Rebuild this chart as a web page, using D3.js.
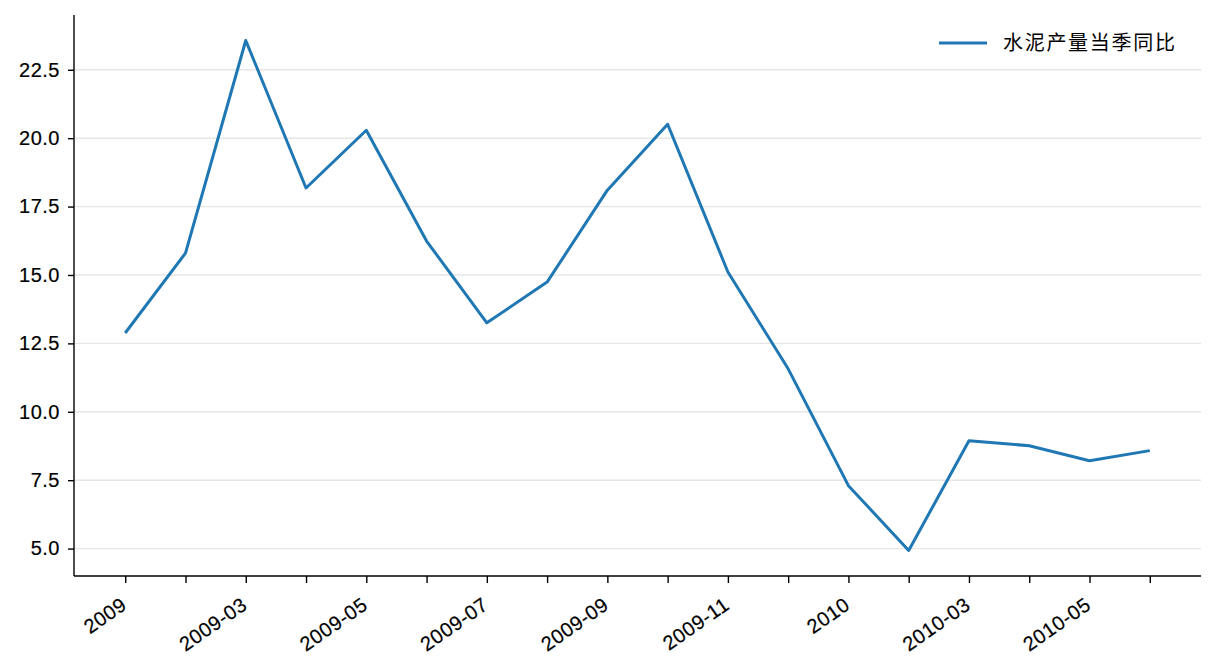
<!DOCTYPE html>
<html>
<head>
<meta charset="utf-8">
<script src="https://cdn.jsdelivr.net/npm/d3@7"></script>
<style>
  body { margin: 0; background: #fff; }
  svg { display: block; }
  .tick text { font-family: "Liberation Sans", Arial, sans-serif; font-size: 20px; letter-spacing: 0.5px; fill: #000; stroke: #000; stroke-width: 0.2px; }
  .legend-text { font-family: "Noto Sans CJK SC", sans-serif; font-size: 20px; letter-spacing: 1.7px; fill: #000; }
</style>
</head>
<body>
<svg class="canvas" width="1216" height="672"></svg>
<script>
'use strict';

const months = [
  '2009-01', '2009-02', '2009-03', '2009-04', '2009-05', '2009-06',
  '2009-07', '2009-08', '2009-09', '2009-10', '2009-11', '2009-12',
  '2010-01', '2010-02', '2010-03', '2010-04', '2010-05', '2010-06',
];
const cementYoY = [
  12.88, 15.8, 23.57, 18.18, 20.29, 16.24,
  13.25, 14.74, 18.1, 20.51, 15.11, 11.57,
  7.3, 4.93, 8.94, 8.76, 8.21, 8.58,
];
const seriesName = '水泥产量当季同比';
const yTicks = [5.0, 7.5, 10.0, 12.5, 15.0, 17.5, 20.0, 22.5];

const svg = d3.select('.canvas'),
  margin = { left: 74, right: 1201, top: 15, bottom: 576 },
  color = '#1f77b4';

// matplotlib-style 5% padding on both axes
const n = months.length,
  [yMin, yMax] = d3.extent(cementYoY),
  yPad = (yMax - yMin) * 0.05,
  xPad = (n - 1) * 0.05;

const x = d3.scaleLinear([-xPad, n - 1 + xPad], [margin.left, margin.right]),
  y = d3.scaleLinear([yMin - yPad, yMax + yPad], [margin.bottom, margin.top]);

// grid
svg.append('g')
  .selectAll('line')
  .data(yTicks)
  .join('line')
  .attr('x1', margin.left)
  .attr('x2', margin.right)
  .attr('y1', d => y(d))
  .attr('y2', d => y(d))
  .attr('stroke', '#e6e6e6')
  .attr('stroke-width', 1.4);

// y axis
const yAxis = svg.append('g')
  .attr('transform', `translate(${margin.left},0)`)
  .call(d3.axisLeft(y).tickValues(yTicks).tickFormat(d3.format('.1f')).tickSize(6).tickPadding(8));
yAxis.select('.domain').attr('stroke', '#000').attr('stroke-width', 1.4)
  .attr('d', `M0,${margin.top}V${margin.bottom}`);
yAxis.selectAll('.tick line').attr('stroke', '#000').attr('stroke-width', 1.4);

// x axis
function monthLabel(m) {
  const [yr, mo] = m.split('-');
  return mo === '01' ? yr : m;
}
const xAxis = svg.append('g')
  .attr('transform', `translate(0,${margin.bottom})`)
  .call(d3.axisBottom(x)
    .tickValues(d3.range(n))
    .tickFormat(i => (i % 2 === 0 ? monthLabel(months[i]) : ''))
    .tickSize(7)
    .tickPadding(4));
xAxis.select('.domain').attr('stroke', '#000').attr('stroke-width', 1.4)
  .attr('d', `M${margin.left},0H${margin.right}`);
xAxis.selectAll('.tick line').attr('stroke', '#000').attr('stroke-width', 1.4);
xAxis.selectAll('.tick text')
  .attr('text-anchor', 'end')
  .attr('y', 0)
  .attr('dy', '0.72em')
  .attr('transform', 'translate(-6,20) rotate(-35)');

// line
svg.append('path')
  .datum(cementYoY)
  .attr('fill', 'none')
  .attr('stroke', color)
  .attr('stroke-width', 3)
  .attr('stroke-linejoin', 'round')
  .attr('d', d3.line((d, i) => x(i), d => y(d)));

// legend
const legend = svg.append('g').attr('transform', 'translate(939,43)');
legend.append('line')
  .attr('x1', 0).attr('x2', 48)
  .attr('stroke', color).attr('stroke-width', 3);
legend.append('text')
  .attr('class', 'legend-text')
  .attr('x', 64)
  .attr('dy', '0.35em')
  .text(seriesName);
</script>
</body>
</html>
